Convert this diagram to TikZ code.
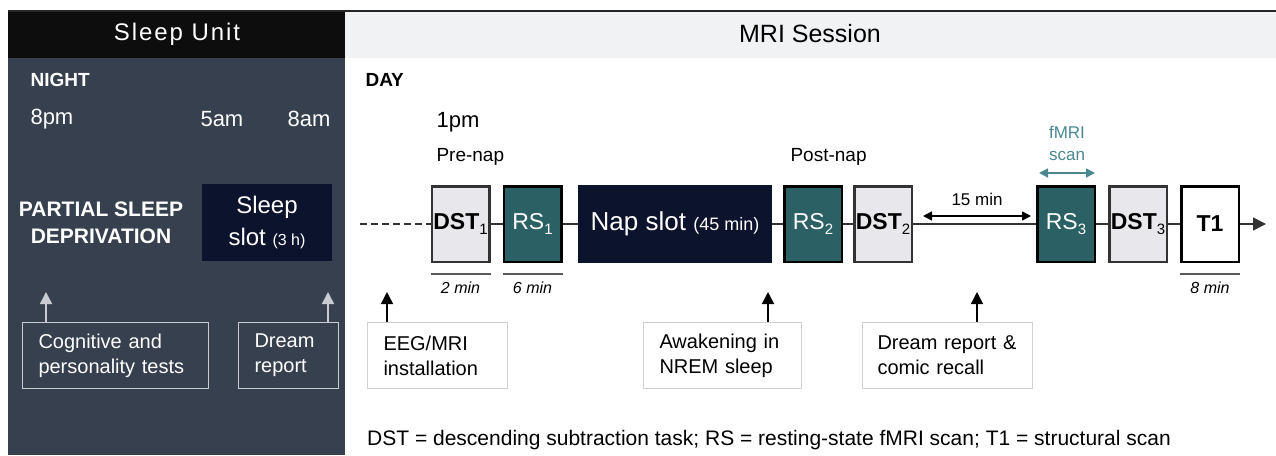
\documentclass[tikz,border=0pt]{standalone}
\usepackage{fontspec}
\setmainfont{Liberation Sans}
\usetikzlibrary{arrows.meta,positioning,calc}

\definecolor{slate}{RGB}{55,64,79}
\definecolor{navy}{RGB}{12,19,44}
\definecolor{rsteal}{RGB}{43,97,101}
\definecolor{dstgray}{RGB}{232,232,236}
\definecolor{hdrgray}{RGB}{241,242,243}
\definecolor{boxline}{RGB}{200,204,210}
\definecolor{scanteal}{RGB}{74,135,145}

\newcommand{\pxfont}[2]{\fontsize{#1}{#2}\selectfont}
\newcommand{\lowidx}[1]{\raisebox{-5pt}{\pxfont{15}{15}\mdseries #1}}

\tikzset{
  stepstyle/.style={line width=2.5pt, minimum width=57.5pt, minimum height=75.5pt, inner sep=0pt},
  dstbox/.style={stepstyle, draw=black!80, fill=dstgray, font=\pxfont{23}{24}\bfseries},
  rsbox/.style={stepstyle, draw=black, fill=rsteal, text=white, font=\pxfont{23}{24}},
  tonebox/.style={stepstyle, draw=black, fill=white, font=\pxfont{23}{24}\bfseries},
  slotbox/.style={fill=navy, text=white, inner sep=0pt, align=center},
  notebox/.style={draw=black!18, fill=white, line width=1pt, anchor=north west, align=left,
    inner xsep=16pt, inner ysep=0pt, minimum height=66pt, font=\pxfont{20}{25}},
  nightbox/.style={notebox, draw=boxline, fill=none, text=white},
  rowline/.style={line width=1.5pt, draw=black!80},
  durline/.style={line width=1.5pt, draw=black!65},
  durtext/.style={below=7pt, inner sep=0pt, font=\pxfont{16}{18}\itshape},
  uparrow/.style={-{Triangle[length=12pt,width=12pt]}, line width=1.5pt},
  dblarrow/.style={{Triangle[length=9pt,width=9pt]}-{Triangle[length=9pt,width=9pt]}, line width=1.5pt}
}

\begin{document}
\begin{tikzpicture}[x=1pt,y=-1pt]
\useasboundingbox (0,0) rectangle (1276,455);

% sleep unit panel
\begin{scope}
\fill[slate] (8,58) rectangle (345,455);
\fill[black!95] (8,10) rectangle (345,58);
\node[text=white, font=\pxfont{24}{28}\addfontfeature{LetterSpace=8}] (unithdr) at (177,34) {Sleep Unit};
\node[anchor=west, text=white, font=\pxfont{19}{22}\bfseries] (night) at (27,80) {NIGHT};
\node[anchor=west, text=white, font=\pxfont{22}{24}] (t8pm) at (27,119) {8pm};
\node[anchor=west, text=white, font=\pxfont{22}{24}] (t5am) at (197,119) {5am};
\node[anchor=west, text=white, font=\pxfont{22}{24}] (t8am) at (284,119) {8am};
\node[text=white, align=center, font=\pxfont{21}{27}\bfseries] (psd) at (101,223) {PARTIAL SLEEP\\DEPRIVATION};
\node[slotbox, minimum width=130pt, minimum height=77pt, font=\pxfont{24}{32}] (sleepslot) at (267,222.5)
  {Sleep\\slot {\pxfont{16}{18}(3 h)}};
\node[nightbox, text width=154pt] (cogtests) at (22,322) {Cognitive and\\personality tests};
\node[nightbox, text width=68pt] (nightdream) at (238,322) {Dream\\report};
\coordinate (cogtip) at (46,292);
\coordinate (dreamtip) at (328,292);
\draw[uparrow, draw=boxline, fill=boxline] (cogtests.north -| cogtip) -- (cogtip);
\draw[uparrow, draw=boxline, fill=boxline] (nightdream.north -| dreamtip) -- (dreamtip);
\end{scope}

% mri session panel
\begin{scope}
\fill[hdrgray] (345,10) rectangle (1276,58);
\draw[line width=2pt, black!85] (8,11) -- (1276,11);
\node[font=\pxfont{25}{28}] (mrihdr) at (810,34) {MRI Session};
\node[anchor=west, font=\pxfont{19}{22}\bfseries] (day) at (362,80) {DAY};
\node[anchor=west, font=\pxfont{22}{24}] (t1pm) at (433,122) {1pm};
\node[anchor=west, font=\pxfont{19}{22}] (prenap) at (433,157) {Pre-nap};
\node[anchor=west, font=\pxfont{19}{22}] (postnap) at (787,157) {Post-nap};

\node[dstbox] (dst1) at (460.5,224) {DST\lowidx{1}};
\node[rsbox] (rs1) at (532.5,224) {RS\lowidx{1}};
\node[slotbox, minimum width=194pt, minimum height=78pt, font=\pxfont{26}{28}] (nap) at (675,224)
  {Nap slot {\pxfont{18}{20}(45 min)}};
\node[rsbox] (rs2) at (813,224) {RS\lowidx{2}};
\node[dstbox] (dst2) at (883,224) {DST\lowidx{2}};
\node[rsbox] (rs3) at (1066,224) {RS\lowidx{3}};
\node[dstbox] (dst3) at (1138,224) {DST\lowidx{3}};
\node[tonebox] (t1) at (1210,224) {T1};

\coordinate (start) at (360,224);
\coordinate (finish) at (1266,224);
\draw[rowline, dash pattern=on 7pt off 4pt] (start) -- (dst1);
\draw[rowline] (dst1) -- (rs1);
\draw[rowline] (rs1) -- (nap);
\draw[rowline] (nap) -- (rs2);
\draw[rowline] (rs2) -- (dst2);
\draw[rowline] (dst2) -- (rs3);
\draw[rowline] (rs3) -- (dst3);
\draw[rowline] (dst3) -- (t1);
\draw[rowline, -{Triangle[length=13pt,width=13pt]}] (t1) -- (finish);

% durations
\draw[durline] ([yshift=-11pt]dst1.south west) -- ([yshift=-11pt]dst1.south east)
  node[durtext, midway] (dur1) {2 min};
\draw[durline] ([yshift=-11pt]rs1.south west) -- ([yshift=-11pt]rs1.south east)
  node[durtext, midway] (dur2) {6 min};
\draw[durline] ([yshift=-11pt]t1.south west) -- ([yshift=-11pt]t1.south east)
  node[durtext, midway] (dur3) {8 min};

% gap and scan window
\coordinate (gapl) at (923,216);
\coordinate (gapr) at (1031,216);
\draw[dblarrow] (gapl) -- (gapr) node[midway, above=10pt, inner sep=0pt, font=\pxfont{17}{20}] (gaplabel) {15 min};
\node[text=scanteal, align=center, inner sep=0pt, font=\pxfont{17}{22}] (fmri) at (1067,143) {fMRI\\scan};
\coordinate (scanl) at (1039,173);
\coordinate (scanr) at (1095,173);
\draw[dblarrow, draw=scanteal, fill=scanteal] (scanl) -- (scanr);

% events
\node[notebox, text width=108pt] (eeg) at (367,322) {EEG/MRI\\installation};
\node[notebox, text width=126pt] (awake) at (643,322) {Awakening in\\NREM sleep};
\node[notebox, text width=140pt, inner xsep=15pt] (recall) at (862,322) {Dream report \&\\comic recall};
\coordinate (eegtip) at (387,292);
\coordinate (awaketip) at (768,292);
\coordinate (recalltip) at (977,292);
\draw[uparrow] (eeg.north -| eegtip) -- (eegtip);
\draw[uparrow] (awake.north -| awaketip) -- (awaketip);
\draw[uparrow] (recall.north -| recalltip) -- (recalltip);

\node[anchor=west, inner sep=0pt, font=\pxfont{21}{24}] (legend) at (367,440)
  {DST = descending subtraction task; RS = resting-state fMRI scan; T1 = structural scan};
\end{scope}
\end{tikzpicture}
\end{document}
